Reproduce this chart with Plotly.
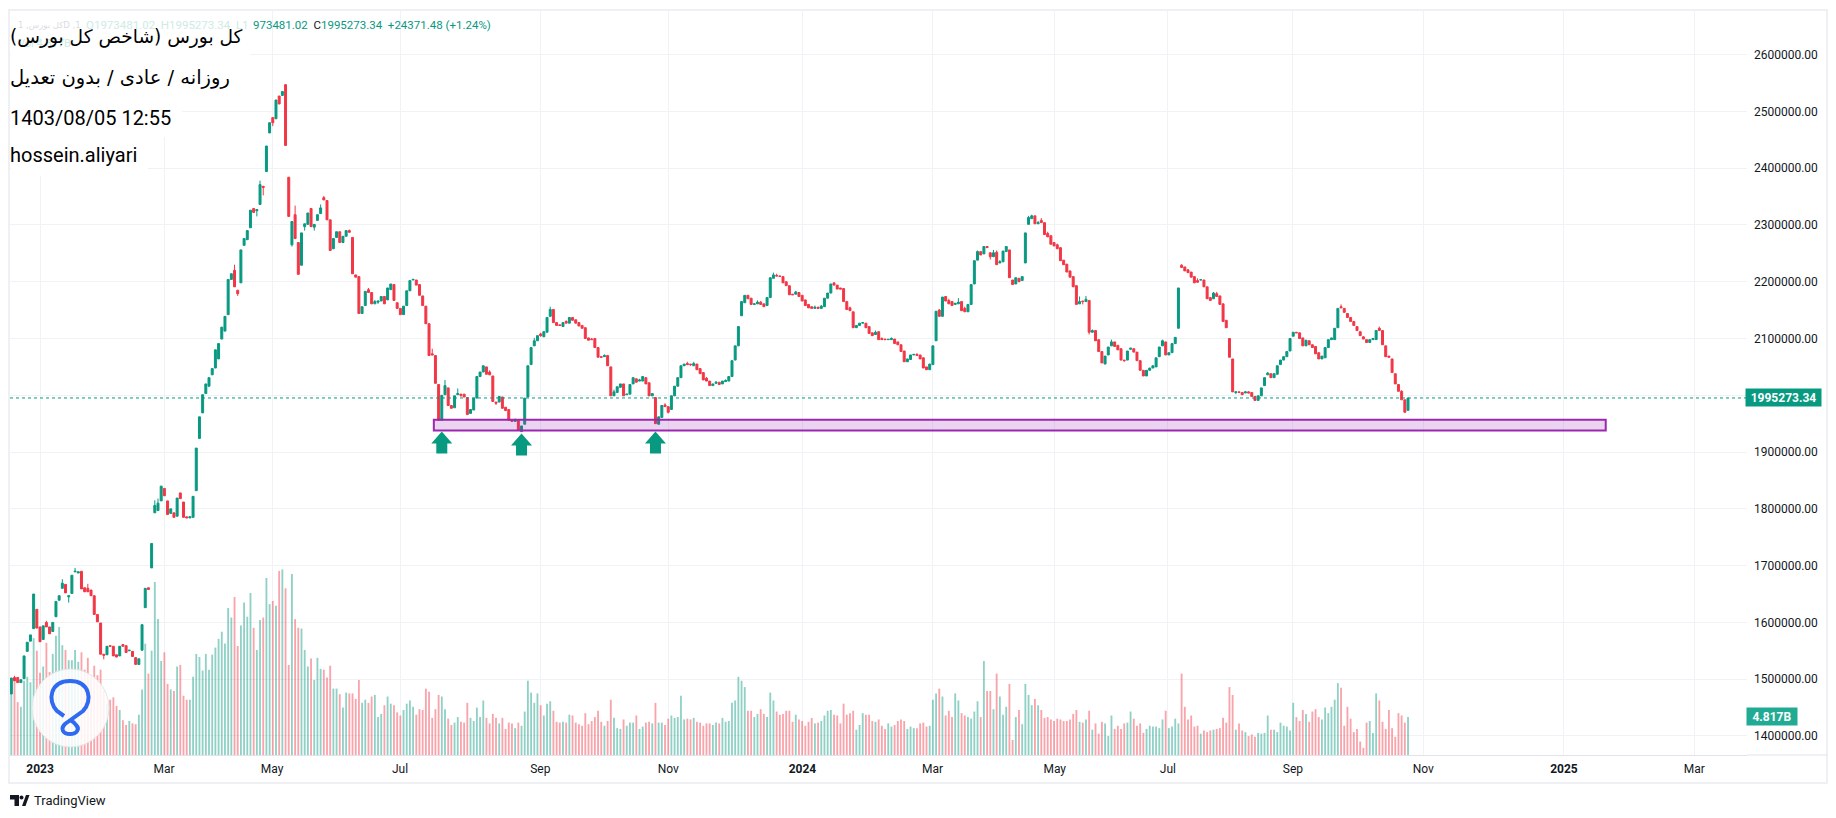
import plotly.graph_objects as go

# Prices in thousands (10 bars per line)
opens = [
1474,1503,1503,1494,1501,1549,1567,1589,1623,1592,
1570,1600,1592,1584,1610,1639,1660,1667,1645,1651,
1689,1687,1690,1661,1660,1657,1647,1614,1599,1544,
1543,1559,1558,1543,1541,1561,1559,1550,1549,1538,
1526,1551,1626,1661,1696,1793,1797,1814,1836,1814,
1792,1793,1787,1828,1812,1786,1784,1785,1832,1924,
1969,2003,2016,2036,2048,2064,2099,2113,2142,2204,
2220,2185,2198,2264,2274,2295,2329,2325,2336,2368,
2394,2462,2489,2487,2527,2528,2547,2384,2265,2318,
2269,2229,2297,2301,2329,2296,2308,2320,2348,2343,
2309,2258,2278,2288,2269,2280,2290,2278,2212,2209,
2144,2158,2186,2181,2161,2164,2166,2174,2168,2186,
2195,2163,2153,2142,2158,2184,2203,2203,2195,2175,
2157,2126,2073,2070,2019,1956,2001,2013,1982,1978,
2001,2002,2002,1996,1968,1974,1995,2033,2041,2050,
2041,2034,1988,1988,1997,1979,1975,1956,1954,1956,
1936,1949,1997,2054,2087,2096,2108,2103,2111,2139,
2151,2128,2124,2121,2130,2127,2137,2133,2128,2123,
2119,2101,2099,2100,2084,2068,2068,2070,2050,1999,
2005,2014,2020,2001,2002,2020,2029,2025,2025,2031,
2022,1999,1996,1949,1961,1983,1980,1975,1999,2016,
2031,2052,2056,2055,2052,2055,2047,2040,2030,2025,
2017,2021,2023,2020,2024,2025,2033,2062,2087,2140,
2163,2176,2171,2160,2161,2164,2161,2158,2172,2206,
2211,2210,2209,2200,2193,2178,2178,2181,2176,2168,
2160,2156,2153,2155,2153,2156,2171,2180,2198,2194,
2189,2188,2165,2154,2147,2119,2123,2127,2127,2121,
2110,2107,2112,2100,2099,2098,2098,2099,2094,2089,
2078,2059,2063,2071,2072,2071,2066,2050,2045,2054,
2096,2150,2139,2174,2167,2165,2160,2161,2165,2153,
2147,2160,2196,2238,2253,2249,2262,2251,2244,2252,
2233,2235,2253,2256,2203,2196,2206,2202,2233,2301,
2311,2316,2302,2308,2304,2285,2281,2269,2265,2260,
2238,2231,2219,2209,2193,2161,2166,2165,2167,2111,
2114,2098,2077,2055,2071,2087,2094,2088,2082,2062,
2062,2081,2082,2076,2061,2044,2034,2044,2048,2050,
2068,2087,2094,2071,2075,2091,2118,2229,2226,2221,
2217,2209,2202,2203,2203,2191,2172,2170,2179,2175,
2161,2132,2100,2064,2005,2006,2005,2004,2006,2005,
1998,1991,1999,2017,2036,2038,2031,2037,2054,2062,
2068,2078,2104,2111,2110,2101,2087,2096,2089,2086,
2075,2064,2066,2084,2098,2098,2119,2156,2153,2144,
2137,2130,2121,2112,2103,2098,2093,2098,2098,2118,
2114,2087,2069,2064,2038,2019,2007,1992,1973.481]

closes = [
1502,1497,1494,1499,1541,1565,1578,1650,1590,1566,
1594,1592,1580,1600,1637,1647,1669,1652,1647,1683,
1690,1689,1659,1654,1654,1647,1614,1601,1544,1542,
1558,1558,1541,1539,1558,1558,1547,1551,1540,1526,
1536,1596,1660,1658,1739,1806,1810,1840,1823,1790,
1800,1785,1819,1818,1785,1784,1786,1822,1907,1962,
2001,2020,2031,2047,2080,2091,2120,2139,2204,2214,
2191,2179,2256,2276,2290,2326,2322,2327,2371,2366,
2439,2480,2480,2520,2513,2535,2440,2315,2306,2276,
2213,2286,2302,2321,2297,2301,2318,2330,2344,2309,
2255,2276,2288,2269,2280,2290,2287,2214,2208,2144,
2156,2183,2181,2161,2165,2166,2174,2161,2189,2196,
2167,2153,2142,2157,2184,2202,2204,2194,2176,2158,
2126,2070,2071,2021,1956,2000,2017,1982,1977,1999,
2003,2000,1997,1966,1975,1995,2033,2041,2052,2037,
2036,1989,1986,1998,1977,1973,1956,1954,1956,1938,
1946,1995,2052,2084,2096,2105,2105,2112,2137,2151,
2128,2123,2123,2128,2127,2137,2132,2127,2122,2118,
2100,2097,2098,2084,2067,2067,2070,2052,1999,2006,
2015,2020,1999,2002,2019,2031,2023,2027,2033,2020,
1999,2003,1950,1962,1982,1980,1970,1999,2016,2031,
2052,2055,2054,2054,2056,2045,2038,2027,2025,2017,
2020,2023,2019,2025,2026,2033,2061,2087,2121,2165,
2176,2170,2160,2161,2164,2160,2156,2172,2207,2212,
2210,2209.5,2198,2193,2177,2177,2182,2174,2166,2158,
2154,2153,2155,2153,2157,2171,2180,2196,2194,2187,
2187,2165,2151,2149,2119,2123,2127,2128,2119,2109,
2105,2111,2098,2098,2098,2098.5,2100,2091,2089,2077,
2059,2064,2071,2072,2070,2064,2048,2045,2055,2087,
2148,2139,2173,2166,2161,2158,2162,2164,2149,2147,
2160,2195,2237,2253,2247,2262,2260,2244,2251,2230,
2235,2254,2262,2207,2195,2207,2200,2209,2286,2313,
2316,2302,2304,2304,2283,2279,2266,2263,2258,2237,
2230,2217,2208,2191,2160,2165,2165,2169,2111,2114,
2096,2077,2057,2069,2085,2094,2086,2080,2062,2061,
2078,2083,2076,2061,2044,2034,2044,2048,2052,2066,
2085,2096,2071,2075,2091,2102,2189,2225,2219,2216,
2208,2198,2199,2203.5,2191,2170,2167,2180,2174,2160,
2130,2119,2067,2006,2006,2005,2001,2006,2004,1998,
1991,1999,2013,2031,2039,2031,2038,2052,2062,2068,
2077,2100,2111,2110,2100,2087,2097,2089,2084,2073,
2064,2069,2084,2098,2101,2118,2153,2154,2146,2137,
2130,2123,2114,2105,2099,2093,2098,2100,2114,2114,
2089,2068,2067,2040,2020,2007,1992,1970,1995.273]

# Bars that show a wick: bar number and wick end, in thousands
high_bars = [1,11,16,20,24,45,46,70,78,89,97,98,106,112,114,126,132,136,140,150,158,164,166,169,174,
             182,186,189,197,205,212,214,218,221,224,234,235,239,240,246,252,253,254,263,271,273,276,
             284,291,294,297,299,303,308,309,310,319,320,322,323,325,328,335,337,339,345,361,367,372,
             377,378,387,388,394,417,429,436]
high_vals = [1506,1603,1676,1696,1668,1815,1818,2230,2378,2334,2336,2351,2292,2189,2168,2205,2082,2027,2012,2044,1959,2101,2110,2156,2132,
             2101,2072,2010,2029,1986,2059,2059,2032,2025,2028,2167,2166,2216,2214,2184,2158,2156,2159,2156,2114,2102,2102,
             2074,2152,2170,2171,2156,2255,2256,2255,2238,2316,2318,2307,2312,2288,2267,2174,2175,2116,2098,2098,2231,2206,
             2182,2182,2007,2007,2041,2160,2121,2009]
low_bars = [18,29,71,77,79,82,88,92,95,115,141,152,166,206,213,307,336,338,349,384]
low_vals = [1635,1535,2175,2315,2352,2474,2262,2290,2290,2161,1997,1983,2103,1968,2052,2239,2160,2107,2059,2002]

# Volume, in billions
volumes = [
9.6,9.3,6.7,6.1,9.4,9.9,9.2,14.8,13.2,10.4,
11.2,14.2,10.5,12.8,15.1,16.2,13.9,13.3,12.0,12.0,
13.3,11.8,13.0,10.8,12.3,10.1,11.3,10.1,10.8,8.2,
6.5,7.0,7.3,6.2,5.7,4.4,3.8,4.3,4.0,3.9,
5.1,8.3,14.1,10.3,13.2,21.9,17.2,11.9,13.0,9.0,
8.3,8.1,11.2,11.4,7.5,7.0,7.0,9.9,12.8,12.4,
10.7,12.8,10.8,12.7,13.6,14.7,15.6,14.1,18.6,17.4,
20.0,13.8,16.4,19.3,17.5,20.5,16.1,13.3,17.1,17.4,
22.4,19.1,19.5,18.9,23.3,23.5,21.1,11.4,22.9,
17.2,16.1,16.0,13.3,11.2,12.2,9.5,12.3,10.9,10.8,
9.8,11.3,8.4,8.4,7.7,6.0,7.9,7.8,7.8,7.1,
9.5,6.6,7.0,6.6,7.4,7.6,4.8,5.2,6.3,7.4,
6.5,6.3,5.4,5.0,5.7,6.5,6.9,6.1,5.1,5.8,
5.7,8.4,8.0,4.7,5.8,7.6,7.4,5.8,4.6,3.8,
4.1,4.8,4.2,4.1,6.6,4.7,4.3,6.0,4.8,6.9,
4.7,4.0,5.2,4.7,4.0,4.7,3.3,4.1,4.0,3.4,
4.1,3.7,5.5,9.4,7.9,6.6,7.8,6.3,5.0,6.5,
6.8,5.6,4.2,4.1,4.2,4.1,5.1,5.0,4.1,3.9,
3.7,5.3,3.9,
4.3,4.8,5.6,4.2,3.7,4.3,7.0,4.7,3.4,3.3,
4.5,3.7,4.1,4.1,5.0,3.3,3.6,4.1,4.2,4.0,
6.6,4.1,4.1,3.8,4.6,5.0,4.7,4.8,7.5,4.5,
4.6,4.5,4.7,4.2,4.1,3.7,4.0,4.0,3.8,4.1,
4.0,4.7,4.2,4.3,6.6,6.9,9.9,9.4,8.6,5.6,
5.6,4.8,5.2,5.8,5.2,4.8,7.9,6.9,5.5,5.1,
5.2,5.6,5.6,4.2,5.1,4.5,4.3,3.7,4.2,4.7,
4.0,4.1,4.3,5.0,5.6,5.7,5.1,5.0,4.0,6.5,
5.1,5.3,5.6,3.2,3.8,5.3,5.1,5.1,4.3,4.2,
4.5,
3.7,3.3,4.0,3.6,3.8,4.3,4.5,4.3,3.3,3.6,
3.4,3.4,4.0,4.1,3.6,3.7,7.0,7.8,8.4,7.4,
5.0,5.6,4.8,7.8,6.9,5.3,5.0,4.8,4.6,5.5,
6.8,4.8,11.9,8.1,8.1,5.8,10.3,7.4,5.1,6.1,
9.0,1.9,4.8,5.7,3.9,9.0,7.6,6.3,7.1,6.3,
5.7,4.7,4.8,4.5,4.3,4.6,4.5,4.3,4.3,4.5,
5.2,5.7,4.2,4.1,4.5,5.6,3.2,4.0,2.7,4.2,
4.0,2.4,5.0,3.3,3.7,3.3,4.0,4.1,5.5,4.6,
3.7,4.0,2.8,3.3,3.7,3.6,3.6,3.4,4.5,5.6,
3.4,
3.6,4.6,4.0,10.3,6.1,4.5,5.0,3.6,3.7,2.7,
3.1,2.9,3.1,3.2,3.3,3.4,4.7,4.1,8.6,7.6,
3.2,4.0,3.1,2.9,2.4,2.6,2.3,2.8,2.7,2.8,
5.0,3.2,3.2,2.9,4.1,3.7,3.6,3.1,6.6,4.8,
4.3,5.7,5.2,4.2,5.5,5.8,4.8,4.5,6.0,5.3,
6.1,7.0,9.1,8.5,3.7,6.1,4.6,2.9,3.3,1.7,
0.9,4.1,4.3,2.8,7.8,6.9,4.2,3.3,5.7,3.4,
2.3,5.3,5.0,4.1,4.817]

tick_positions = [9, 47.9, 81.8, 121.9, 165.9, 206, 248.1, 288.9, 327.2, 362.7, 401.9, 442.8, 486.9, 527.8]
tick_labels = ["<b>2023</b>", "Mar", "May", "Jul", "Sep", "Nov", "<b>2024</b>", "Mar", "May", "Jul", "Sep", "Nov", "<b>2025</b>", "Mar"]
price_ticks = [1400000, 1500000, 1600000, 1700000, 1800000, 1900000, 2000000, 2100000,
               2200000, 2300000, 2400000, 2500000, 2600000]
last_close = 1995273.34
arrow_bars = [135, 160, 202]
arrow_tips = [1936300, 1932600, 1936300]
zone_bars = [132.5, 500]
zone_prices = [1938000, 1956700]

assert len(opens) == len(closes) == len(volumes), (len(opens), len(closes), len(volumes))
assert len(high_bars) == len(high_vals) and len(low_bars) == len(low_vals), (len(high_bars), len(high_vals), len(low_bars), len(low_vals))

UP, DOWN = "#089981", "#F23645"
bars = list(range(len(opens)))
open_p = [v * 1000 for v in opens]
close_p = [v * 1000 for v in closes]
high_p = [max(a, b) for a, b in zip(open_p, close_p)]
low_p = [min(a, b) for a, b in zip(open_p, close_p)]
for b, v in zip(high_bars, high_vals):
    high_p[b] = max(high_p[b], v * 1000)
for b, v in zip(low_bars, low_vals):
    low_p[b] = min(low_p[b], v * 1000)
vol_colors = ["rgba(8,153,129,0.45)" if c >= o else "rgba(242,54,69,0.45)" for o, c in zip(opens, closes)]

L, R, T, B = 10, 1747, 10, 755
W, H = 1836, 818
def xp(px): return (px - L) / (R - L)
def yp(py): return 1 - (py - T) / (B - T)

fig = go.Figure()
fig.add_trace(go.Bar(x=bars, y=volumes, marker=dict(color=vol_colors, line_width=0), yaxis="y", hoverinfo="skip", showlegend=False))
fig.add_trace(go.Candlestick(
    x=bars, open=open_p, high=high_p, low=low_p, close=close_p, yaxis="y2", showlegend=False,
    whiskerwidth=0,
    increasing=dict(line=dict(color=UP, width=1), fillcolor=UP),
    decreasing=dict(line=dict(color=DOWN, width=1), fillcolor=DOWN),
))

shapes = []
# last price line
shapes.append(dict(type="line", xref="paper", x0=0, x1=1, yref="y2", y0=last_close, y1=last_close,
                   line=dict(color=UP, width=1, dash="dot"), layer="above"))
# support zone
shapes.append(dict(type="rect", xref="x", yref="y2", x0=zone_bars[0], x1=zone_bars[1], y0=zone_prices[0], y1=zone_prices[1],
                   line=dict(color="#9C27B0", width=2), fillcolor="rgba(156,39,176,0.2)", layer="above"))
# arrows
arrow_path = "M 0 0 L 10.5 -12 L 5.5 -12 L 5.5 -22 L -5.5 -22 L -5.5 -12 L -10.5 -12 Z"
for b, p in zip(arrow_bars, arrow_tips):
    shapes.append(dict(type="path", xref="x", yref="y2", xsizemode="pixel", ysizemode="pixel", xanchor=b, yanchor=p,
                       path=arrow_path, fillcolor=UP, line_width=0, layer="above"))
# white boxes behind the title lines
for x1, y0, y1 in [(250, 11, 56), (237, 56, 97), (182, 97, 137), (148, 137, 176)]:
    shapes.append(dict(type="rect", xref="paper", yref="paper", x0=xp(L + 1), x1=xp(x1), y0=yp(y1), y1=yp(y0),
                       fillcolor="white", line_width=0, layer="above"))
# watermark circle
shapes.append(dict(type="circle", xref="paper", yref="paper", x0=xp(32), x1=xp(109), y0=yp(747), y1=yp(669),
                   fillcolor="rgba(255,255,255,0.86)", line=dict(color="#e6e6e6", width=1), layer="above"))
loop = "M 64 716 L 57 711 C 47 701 50 681 70 681 C 90 681 93 701 83 711 L 65 724 C 60 729 63 734 70 734 C 77 734 80 729 76 725 C 74 722 72 721 70 720"
def to_paper_path(path):
    out, is_x = [], True
    for tok in path.split():
        if tok.isalpha():
            out.append(tok); is_x = True
        else:
            out.append(f"{xp(float(tok)):.5f}" if is_x else f"{yp(float(tok)):.5f}")
            is_x = not is_x
    return " ".join(out)
shapes.append(dict(type="path", xref="paper", yref="paper", path=to_paper_path(loop), line=dict(color="#2E6BF0", width=4), fillcolor="rgba(0,0,0,0)", layer="above"))
# frame
FR = "#EFF0F4"
shapes.append(dict(type="rect", xref="paper", yref="paper", x0=xp(9), x1=xp(1827), y0=yp(783), y1=yp(10),
                   line=dict(color=FR, width=2), fillcolor="rgba(0,0,0,0)", layer="below"))
# time axis rule
shapes.append(dict(type="line", xref="paper", yref="paper", x0=xp(1747), x1=xp(1827), y0=yp(755), y1=yp(755),
                   line=dict(color="#E0E3EB", width=1), layer="below"))
# TradingView mark
for p in ["M 10 795 L 19 795 L 19 806 L 14.5 806 L 14.5 799.5 L 10 799.5 Z",
          "M 22 806 L 26 795 L 29.5 795 L 25.5 806 Z"]:
    shapes.append(dict(type="path", xref="paper", yref="paper", path=to_paper_path(p), fillcolor="#131722", line_width=0))
shapes.append(dict(type="circle", xref="paper", yref="paper", x0=xp(19.5), x1=xp(23.5), y0=yp(799.5), y1=yp(795.5), fillcolor="#131722", line_width=0))

AR = "DejaVu Sans"
def text(px, py, s, size, color="#000000", family="Roboto", anchor="left", **kw):
    return dict(x=xp(px), y=yp(py), xref="paper", yref="paper", text=s, showarrow=False, xanchor=anchor, yanchor="middle",
                font=dict(family=family, size=size, color=color), **kw)
legend_fade = "#CDEBE5"
annotations = [
    text(16, 25, "کل بورس, 1D ,1", 8.5, "#DADDE3", family=AR),
    text(84, 25, "O1973481.02  H1995273.34  L1", 11.5, legend_fade),
    text(251, 25, "973481.02  <span style='color:#131722'>C</span>1995273.34  +24371.48 (+1.24%)", 11.5, UP),
    text(16, 44, "Vol 4.817B", 11, legend_fade),
    text(8, 37, "کل بورس (شاخص کل بورس)", 18.6, family=AR),
    text(8, 77, "روزانه / عادی / بدون تعدیل", 19.5, family=AR),
    text(8, 118, "1403/08/05 12:55", 20),
    text(8, 155, "hossein.aliyari", 20),
    text(32, 800, "TradingView", 13, "#131722"),
    dict(x=1, xref="paper", xanchor="left", xshift=-2, y=last_close, yref="y2", yanchor="middle", text="<b>1995273.34</b>", showarrow=False,
         bgcolor=UP, width=75, height=17, borderpad=0, align="center", font=dict(family="Roboto", size=12, color="white")),
    dict(x=1, xref="paper", xanchor="left", xshift=-1, y=volumes[-1], yref="y", yanchor="middle", text="<b>4.817B</b>", showarrow=False,
         bgcolor="#22AB94", width=50, height=17, borderpad=0, align="center", font=dict(family="Roboto", size=12, color="white")),
]

GRID = "#F1F2F5"
fig.update_layout(
    width=W, height=H, margin=dict(l=L, r=W - R, t=T, b=H - B),
    paper_bgcolor="white", plot_bgcolor="white", bargap=0.42, boxgap=0.12, hovermode=False, dragmode=False,
    xaxis=dict(range=[-0.41, 544.3], tickvals=tick_positions, ticktext=tick_labels, showgrid=True, gridcolor=GRID, gridwidth=1,
               zeroline=False, showline=True, linecolor="#E0E3EB", linewidth=1, ticks="", ticklabelstandoff=3,
               tickfont=dict(family="Roboto", size=12, color="#131722"), rangeslider=dict(visible=False), tickangle=0),
    yaxis=dict(range=[0, 94.3], visible=False, showgrid=False, zeroline=False, fixedrange=True),
    yaxis2=dict(range=[1366500, 2678500], overlaying="y", side="right", tickvals=price_ticks, tickformat=".2f",
                showgrid=True, gridcolor=GRID, gridwidth=1, zeroline=False, showline=False, ticks="", ticklabelstandoff=6,
                tickfont=dict(family="Roboto", size=12, color="#131722"), anchor="x"),
    shapes=shapes, annotations=annotations,
)
fig.write_html("out.html", config=dict(displayModeBar=False),
               post_script="document.body.style.margin='0';document.body.style.overflow='hidden';")
